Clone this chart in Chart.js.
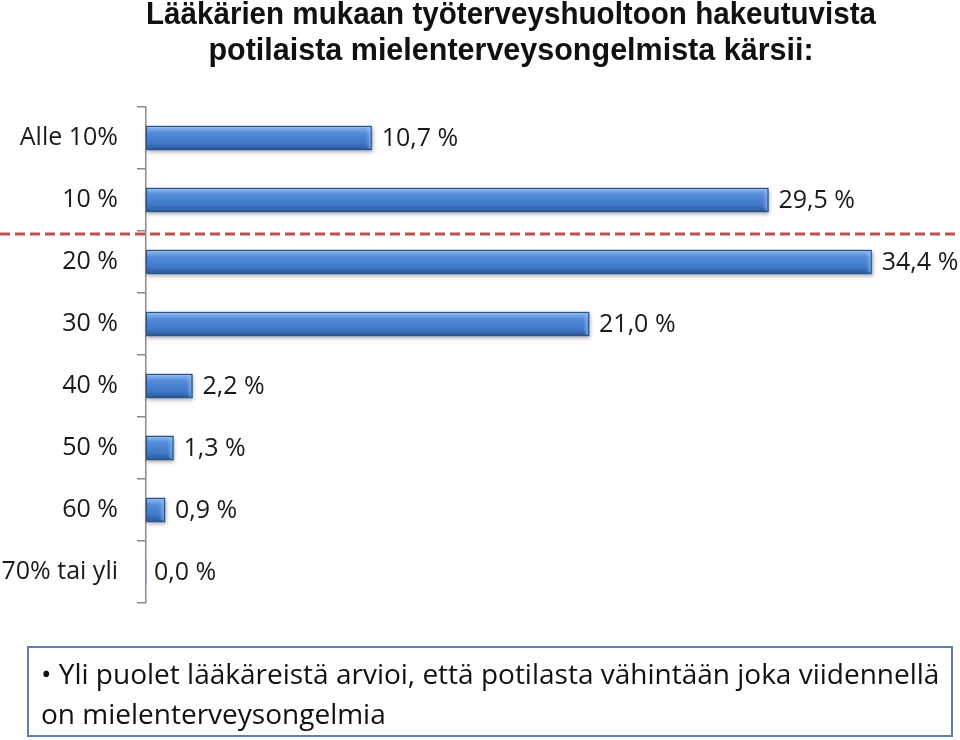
<!DOCTYPE html>
<html><head><meta charset="utf-8">
<script src="https://cdn.jsdelivr.net/npm/chart.js@4.4.0/dist/chart.umd.min.js"></script>
<style>
html,body{margin:0;padding:0;background:#fff;}
#wrap{position:relative;width:960px;height:740px;}
#note{position:absolute;left:27px;top:646px;width:926px;height:91px;border:2px solid #5b7fb9;box-sizing:border-box;
font-family:"Liberation Sans Narrow","Open Sans",sans-serif;font-size:28px;line-height:40px;color:#111;padding:5px 0 0 12px;}
</style></head><body>
<div id="wrap"><canvas id="c" width="960" height="740"></canvas>
<div id="note">• Yli puolet lääkäreistä arvioi, että potilasta vähintään joka viidennellä on mielenterveysongelmia</div>
</div>
<script>
const categories = ["Alle 10%","10 %","20 %","30 %","40 %","50 %","60 %","70% tai yli"];
const values = [10.7, 29.5, 34.4, 21.0, 2.2, 1.3, 0.9, 0.0];
const valueLabels = ["10,7 %","29,5 %","34,4 %","21,0 %","2,2 %","1,3 %","0,9 %","0,0 %"];
const titleLines = ["Lääkärien mukaan työterveyshuoltoon hakeutuvista","potilaista mielenterveysongelmista kärsii:"];
const thresholdAfter = 1; // dashed line between "10 %" and "20 %"

const barStyle = {
  id:'barStyle',
  beforeDatasetsDraw(chart){
    const ctx=chart.ctx; const meta=chart.getDatasetMeta(0);
    ctx.save();
    ctx.shadowColor='rgba(0,0,0,0.35)'; ctx.shadowBlur=4; ctx.shadowOffsetX=1; ctx.shadowOffsetY=2;
    meta.data.forEach((el,i)=>{
      if(values[i]<=0) return;
      const top=el.y-el.height/2;
      ctx.fillStyle='#3a6aa8';
      ctx.fillRect(el.base, top, el.x-el.base, el.height);
    });
    ctx.restore();
  },
  afterDatasetsDraw(chart){
    const ctx=chart.ctx; const meta=chart.getDatasetMeta(0);
    ctx.save();
    meta.data.forEach((el,i)=>{
      const top=el.y-el.height/2, h=el.height, x0=el.base, x1=el.x;
      if(values[i]>0){
        const g=ctx.createLinearGradient(0,top,0,top+h);
        g.addColorStop(0,'#aacaf2');
        g.addColorStop(0.12,'#78a8e6');
        g.addColorStop(0.3,'#528bd8');
        g.addColorStop(0.7,'#4079c8');
        g.addColorStop(1,'#2c5896');
        ctx.fillStyle=g;
        ctx.fillRect(x0,top,x1-x0,h);
        const bw=Math.min(6,(x1-x0)/3);
        const g2=ctx.createLinearGradient(x1-bw,0,x1,0);
        g2.addColorStop(0,'rgba(160,200,245,0)');
        g2.addColorStop(1,'rgba(150,190,240,0.7)');
        ctx.fillStyle=g2;
        ctx.beginPath();
        ctx.moveTo(x1-bw,top+bw*0.6);ctx.lineTo(x1,top);ctx.lineTo(x1,top+h);ctx.lineTo(x1-bw,top+h-bw*0.6);ctx.closePath();
        ctx.fill();
        ctx.strokeStyle='#2a5288'; ctx.lineWidth=1;
        ctx.strokeRect(x0+0.5,top+0.5,x1-x0-1,h-1);
      }
      ctx.fillStyle='#1a1a1a';
      ctx.font='25px "Open Sans", sans-serif';
      ctx.textBaseline='middle'; ctx.textAlign='left';
      ctx.fillText(valueLabels[i], x1+(values[i]>0?10:8), el.y+1);
    });
    const ys=chart.scales.y;
    const yl=(ys.getPixelForValue(thresholdAfter)+ys.getPixelForValue(thresholdAfter+1))/2+3;
    ctx.strokeStyle='#c0504d'; ctx.lineWidth=3; ctx.setLineDash([10,5]);
    ctx.beginPath(); ctx.moveTo(0,yl); ctx.lineTo(chart.width,yl); ctx.stroke();
    ctx.restore();
  }
};

new Chart(document.getElementById('c'),{
  type:'bar',
  data:{labels:categories,datasets:[{data:values,backgroundColor:'#4a80cc',borderWidth:0,barThickness:24}]},
  options:{
    indexAxis:'y',responsive:false,animation:false,
    layout:{padding:{left:0,right:84,top:0,bottom:137}},
    plugins:{legend:{display:false},tooltip:{enabled:false},
      title:{display:true,text:titleLines,fullSize:false,color:'#111',
        font:{family:'"Liberation Sans Narrow","Liberation Sans",sans-serif',size:30.5,weight:'bold',lineHeight:'36px'},
        padding:{top:-2,bottom:37}}},
    scales:{
      x:{display:false,min:0,max:34.6},
      y:{afterFit(s){s.width=146;},
        grid:{offset:true,drawOnChartArea:false,color:'#8a8a8a',tickLength:9,lineWidth:1.5},
        border:{display:true,color:'#8a8a8a',width:1.5},
        ticks:{color:'#1a1a1a',padding:19,font:{family:'"Open Sans", sans-serif',size:25}}}
    }
  },
  plugins:[barStyle]
});
</script></body></html>
